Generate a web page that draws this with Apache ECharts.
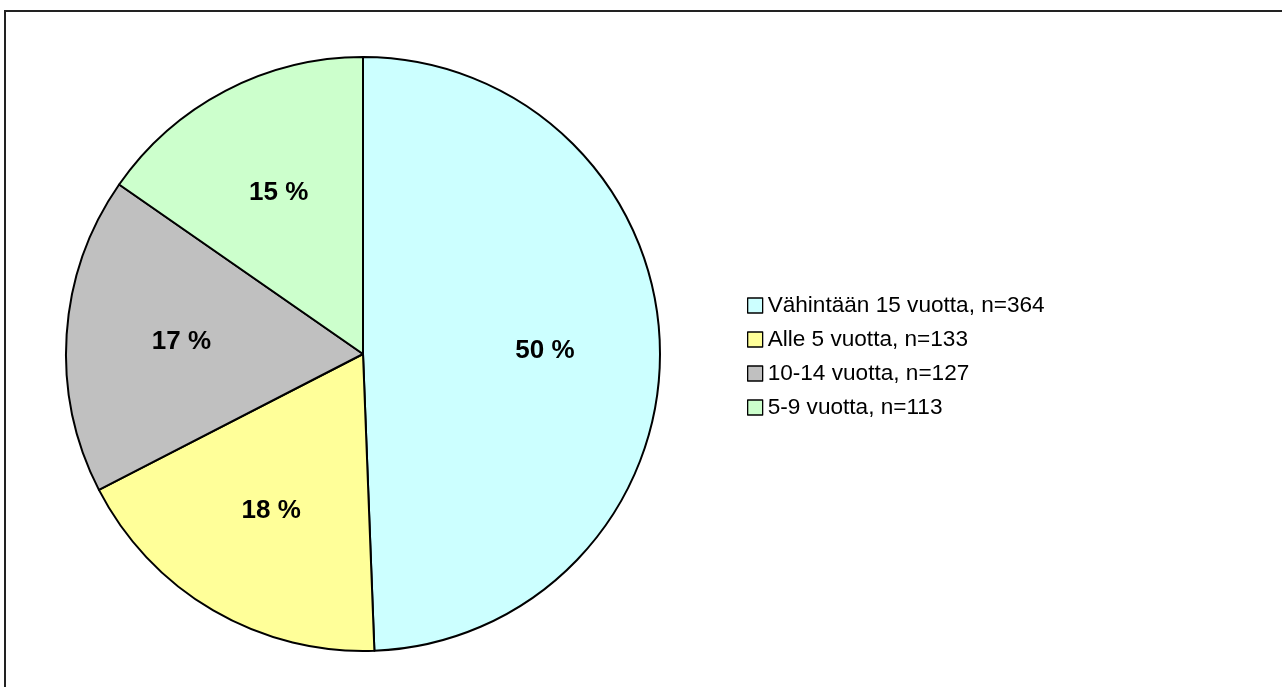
<!DOCTYPE html>
<html>
<head>
<meta charset="utf-8">
<script src="https://cdn.jsdelivr.net/npm/echarts@6/dist/echarts.min.js"></script>
<style>
  html, body { margin: 0; padding: 0; background: #fff; }
  #main { width: 1282px; height: 687px; }
</style>
</head>
<body>
<div id="main"></div>
<script>
// kategoriat ja arvot
const categories = ["Vähintään 15 vuotta, n=364", "Alle 5 vuotta, n=133", "10-14 vuotta, n=127", "5-9 vuotta, n=113"];
const values = [364, 133, 127, 113];
const percentLabels = ["50 %", "18 %", "17 %", "15 %"];
const colors = ["#CCFFFF", "#FFFF99", "#C0C0C0", "#CCFFCC"];

const pieData = categories.map((name, i) => ({
  name: name,
  value: values[i],
  itemStyle: { color: colors[i] }
}));

const labelData = categories.map((name, i) => ({
  name: name,
  value: values[i],
  label: { formatter: percentLabels[i] }
}));

const myChart = echarts.init(document.getElementById("main"));
myChart.setOption({
  animation: false,
  graphic: [
    {
      type: "rect",
      shape: { x: 5, y: 11, width: 1400, height: 800 },
      style: { fill: "none", stroke: "#222", lineWidth: 2 },
      silent: true
    }
  ],
  legend: {
    orient: "vertical",
    left: 742,
    top: 289,
    itemWidth: 15,
    itemHeight: 15,
    itemGap: 11,
    icon: "rect",
    textStyle: { fontFamily: "Liberation Sans, Arial", fontSize: 22.6, color: "#000" },
    itemStyle: { borderColor: "#000", borderWidth: 1.3 },
    data: categories
  },
  series: [
    {
      type: "pie",
      center: [363, 354],
      radius: [0, 297],
      startAngle: 90,
      clockwise: true,
      data: pieData,
      itemStyle: { borderColor: "#000", borderWidth: 2 },
      label: { show: false },
      labelLine: { show: false },
      emphasis: { disabled: true }
    },
    {
      // vain prosenttitekstit
      type: "pie",
      center: [363, 354],
      radius: [58, 300],
      startAngle: 90,
      clockwise: true,
      silent: true,
      legendHoverLink: false,
      data: labelData,
      itemStyle: { color: "rgba(0,0,0,0)", borderWidth: 0 },
      label: {
        show: true,
        position: "inside",
        fontFamily: "Liberation Sans, Arial",
        fontWeight: "bold",
        fontSize: 26,
        color: "#000"
      },
      labelLine: { show: false },
      emphasis: { disabled: true }
    }
  ]
});
</script>
</body>
</html>
